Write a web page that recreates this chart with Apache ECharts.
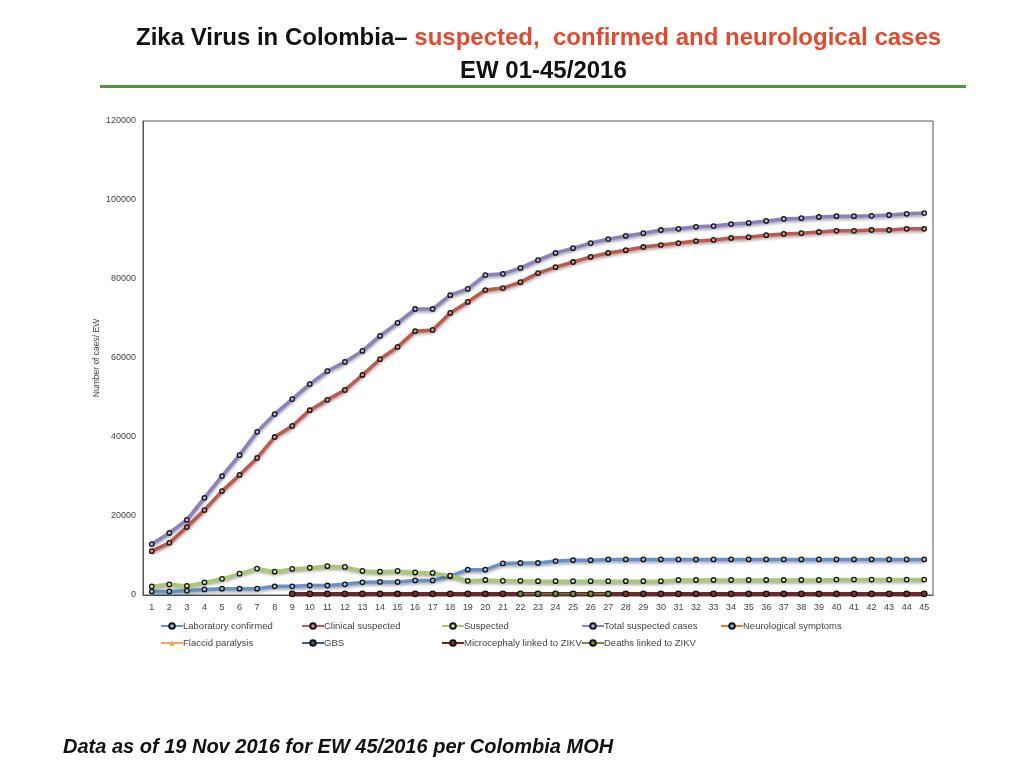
<!DOCTYPE html>
<html>
<head>
<meta charset="utf-8">
<script src="https://cdn.jsdelivr.net/npm/echarts@6/dist/echarts.min.js"></script>
<style>
html, body { margin: 0; padding: 0; background: #fff; }
#chartmain { width: 1024px; height: 768px; }
</style>
</head>
<body>
<div id="chartmain"></div>
<script>
// semanas epidemiologicas
var weeks = [];
for (var w = 1; w <= 45; w++) weeks.push(String(w));

var yTicks = [0, 20000, 40000, 60000, 80000, 100000, 120000];

var labConfirmed = [900, 900, 1100, 1400, 1600, 1600, 1600, 2200, 2200, 2400,
    2400, 2700, 3200, 3300, 3300, 3700, 3700, 4800, 6400, 6400,
    8000, 8100, 8100, 8600, 8800, 8800, 9000, 9000, 9000, 9000,
    9000, 9000, 9000, 9000, 9000, 9000, 9000, 9000, 9000, 9000,
    9000, 9000, 9000, 9000, 9000];

var clinicalSuspected = [11100, 13200, 17200, 21500, 26300, 30400, 34700, 40000, 42800, 46800,
    49400, 51900, 55700, 59700, 62800, 66800, 67100, 71400, 74200, 77200,
    77700, 79200, 81500, 83000, 84300, 85600, 86600, 87300, 88100, 88600,
    89100, 89600, 89900, 90400, 90600, 91100, 91400, 91600, 91900, 92200,
    92200, 92400, 92400, 92700, 92700];

var suspected = [2200, 2700, 2300, 3200, 4100, 5400, 6700, 5900, 6600, 6900,
    7300, 7100, 6100, 5900, 6100, 5700, 5600, 4900, 3600, 3800,
    3600, 3600, 3500, 3500, 3500, 3500, 3500, 3500, 3500, 3500,
    3800, 3800, 3800, 3800, 3800, 3800, 3800, 3800, 3800, 3900,
    3900, 3900, 3900, 3900, 3900];

var totalSuspected = [12900, 15700, 19000, 24600, 30100, 35400, 41300, 45800, 49600, 53400,
    56700, 59000, 61800, 65600, 68900, 72400, 72400, 75900, 77500, 81000,
    81300, 82800, 84800, 86600, 87800, 89100, 90100, 90900, 91600, 92400,
    92700, 93200, 93400, 93900, 94200, 94700, 95200, 95400, 95700, 95900,
    95900, 96000, 96200, 96500, 96700];

// series casi en cero (desde la semana 9)
var neurological = [null, null, null, null, null, null, null, null, 250, 250,
    250, 250, 250, 250, 250, 250, 250, 250, 250, 250,
    250, 250, 250, 250, 250, 250, 250, 250, 250, 250,
    250, 250, 250, 250, 250, 250, 250, 250, 250, 250,
    250, 250, 250, 250, 250];
var flaccid = [null, null, null, null, null, null, null, null, 200, 200,
    200, 200, 200, 200, 200, 200, 200, 200, 200, 200,
    200, 200, 200, 200, 200, 200, 200, 200, 200, 200,
    200, 200, 200, 200, 200, 200, 200, 200, 200, 200,
    200, 200, 200, 200, 200];
var gbs = [null, null, null, null, null, null, null, null, 300, 300,
    300, 300, 300, 300, 300, 300, 300, 300, 300, 300,
    300, 300, 300, 300, 300, 300, 300, 300, 300, 300,
    300, 300, 300, 300, 300, 300, 300, 300, 300, 300,
    300, 300, 300, 300, 300];
var microcephaly = [null, null, null, null, null, null, null, null, 300, 300,
    300, 300, 300, 300, 300, 300, 300, 300, 300, 300,
    300, 300, 300, 300, 300, 300, 300, 300, 300, 300,
    300, 300, 300, 300, 300, 300, 300, 300, 300, 300,
    300, 300, 300, 300, 300];
var deaths = [null, null, null, null, null, null, null, null, null, null,
    null, null, null, null, null, null, null, null, null, null,
    null, 300, 300, 300, 300, 300, 300, null, null, null,
    null, null, null, null, null, null, null, null, null, null,
    null, null, null, null, null];

var seriesNames = ['Laboratory confirmed', 'Clinical suspected', 'Suspected', 'Total suspected cases',
    'Neurological symptoms', 'Flaccid paralysis', 'GBS', 'Microcephaly linked to ZIKV', 'Deaths linked to ZIKV'];

var chart = echarts.init(document.getElementById('chartmain'));

function lineSeries(name, data, color, fill, width, symbol, size, border) {
    return {
        name: name,
        type: 'line',
        data: data,
        symbol: symbol,
        symbolSize: size,
        showAllSymbol: true,
        connectNulls: false,
        lineStyle: {
            color: color,
            width: width,
            shadowColor: 'rgba(0,0,0,0.35)',
            shadowBlur: 3,
            shadowOffsetY: 2
        },
        itemStyle: {
            color: fill,
            borderColor: '#151515',
            borderWidth: border
        },
        emphasis: { disabled: true }
    };
}

// posiciones de la leyenda: dos filas, columnas de 140px
var legendPos = [
    [160, 621], [301, 621], [441, 621], [581, 621], [720, 621],
    [160, 638], [301, 638], [441, 638], [581, 638]
];
var legends = seriesNames.map(function (n, i) {
    return {
        data: [n],
        left: legendPos[i][0],
        top: legendPos[i][1],
        itemWidth: 22,
        itemHeight: 7,
        itemGap: 0,
        padding: 0,
        selectedMode: false,
        textStyle: { color: '#444', fontSize: 9.5, fontFamily: 'Liberation Sans', padding: [0, 0, 0, -5] }
    };
});

var option = {
    animation: false,
    title: [{
        text: '{b|Zika Virus in Colombia\u2013 }{r|suspected,  confirmed and neurological cases}',
        left: 131,
        top: 21,
        textStyle: {
            rich: {
                b: { fontSize: 24, fontWeight: 'bold', color: '#111', fontFamily: 'Liberation Sans' },
                r: { fontSize: 24, fontWeight: 'bold', color: '#e04a30', fontFamily: 'Liberation Sans' }
            }
        }
    }, {
        text: 'EW 01-45/2016',
        left: 455,
        top: 54,
        textStyle: { fontSize: 24, fontWeight: 'bold', color: '#111', fontFamily: 'Liberation Sans' }
    }, {
        text: 'Data as of 19 Nov 2016 for EW 45/2016 per Colombia MOH',
        left: 58,
        top: 732,
        textStyle: { fontSize: 20, fontWeight: 'bold', fontStyle: 'italic', color: '#111', fontFamily: 'Liberation Sans' }
    }],
    graphic: [{
        type: 'rect',
        shape: { x: 100, y: 85, width: 866, height: 3 },
        style: { fill: '#4c9a3a' },
        silent: true
    }],
    legend: legends,
    grid: {
        left: 143,
        right: 91,
        top: 121,
        bottom: 173,
        show: true,
        borderColor: '#555',
        borderWidth: 1
    },
    xAxis: {
        type: 'category',
        data: weeks,
        boundaryGap: true,
        axisLine: { show: true, lineStyle: { color: '#555' } },
        axisTick: { show: false },
        axisLabel: { color: '#444', fontSize: 9, margin: 8, interval: 0, fontFamily: 'Liberation Sans' }
    },
    yAxis: {
        type: 'value',
        min: yTicks[0],
        max: yTicks[yTicks.length - 1],
        interval: yTicks[1] - yTicks[0],
        name: 'Number of caes/ EW',
        nameLocation: 'middle',
        nameGap: 42,
        nameMoveOverlap: false,
        nameTextStyle: { color: '#444', fontSize: 8.5, fontFamily: 'Liberation Sans' },
        axisLine: { show: true, lineStyle: { color: '#555' } },
        axisTick: { show: false },
        splitLine: { show: false },
        axisLabel: {
            color: '#444', fontSize: 9, margin: 7, fontFamily: 'Liberation Sans',
            formatter: function (v) { return String(v); }
        }
    },
    series: [
        lineSeries(seriesNames[0], labConfirmed, '#6592cc', '#9fbde6', 3.5, 'circle', 4.5, 1.3),
        lineSeries(seriesNames[1], clinicalSuspected, '#c0584c', '#e08a7e', 3.5, 'circle', 4.5, 1.3),
        lineSeries(seriesNames[2], suspected, '#a9c96e', '#d6e7a8', 3.5, 'circle', 4.5, 1.3),
        lineSeries(seriesNames[3], totalSuspected, '#8e7fbf', '#b9addc', 3.5, 'circle', 4.5, 1.3),
        lineSeries(seriesNames[4], neurological, '#e07b39', '#9aa7c8', 1.2, 'circle', 3, 1),
        lineSeries(seriesNames[5], flaccid, '#f3a85a', '#f3a85a', 1.2, 'triangle', 4, 0),
        lineSeries(seriesNames[6], gbs, '#3f5f8f', '#3f5f8f', 3.5, 'circle', 4.5, 1.3),
        lineSeries(seriesNames[7], microcephaly, '#6e2626', '#8a2e2e', 3.5, 'circle', 5.5, 1.3),
        lineSeries(seriesNames[8], deaths, '#7d8a3c', '#7d8a3c', 1.2, 'circle', 5, 1)
    ]
};

chart.setOption(option);
</script>
</body>
</html>
